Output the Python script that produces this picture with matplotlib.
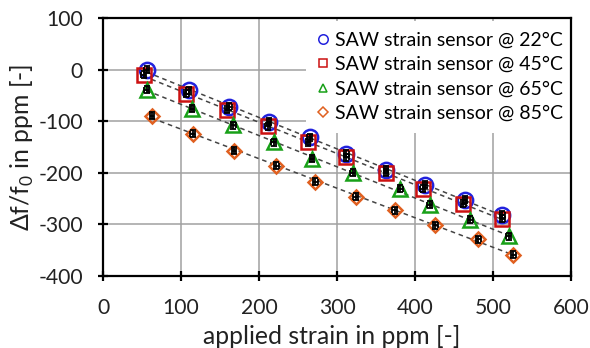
import numpy as np
import matplotlib
matplotlib.use("Agg")
import matplotlib.pyplot as plt

plt.rcParams['font.family'] = ['Lato', 'DejaVu Sans']
plt.rcParams['axes.unicode_minus'] = False

labels = ["SAW strain sensor @ 22°C", "SAW strain sensor @ 45°C",
          "SAW strain sensor @ 65°C", "SAW strain sensor @ 85°C"]

x22 = [56, 110, 162, 213, 265, 312, 363, 413, 464, 512]
y22 = [0, -40, -72, -101, -131, -163, -194, -223, -252, -281]
x45 = [52, 107, 159, 211, 263, 312, 363, 410, 462, 512]
y45 = [-10, -47, -78, -110, -141, -170, -200, -231, -260, -289]
x65 = [56, 114, 167, 219, 268, 320, 381, 419, 471, 520]
y65 = [-39, -76, -108, -141, -173, -200, -231, -262, -291, -323]
x85 = [63, 115, 168, 222, 272, 324, 374, 426, 481, 526]
y85 = [-89, -124, -157, -186, -217, -246, -273, -302, -329, -359]
yerr = [7, 7, 7, 7]
xerr = [3, 3, 3, 3]

series = [(x22, y22), (x45, y45), (x65, y65), (x85, y85)]
markers = ['o', 's', '^', 'D']
colors = ['#2222dd', '#cc1111', '#18a018', '#e06020']
msizes = [11, 9.5, 10, 7.5]

W, H = 590, 348
fig = plt.figure(figsize=(W / 100, H / 100), dpi=100)
ax = fig.add_axes([103 / W, 1 - 276 / H, 468 / W, 258 / H])

for i, (xs, ys) in enumerate(series):
    xs = np.array(xs); ys = np.array(ys)
    p = np.polyfit(xs, ys, 1)
    xl = np.array([xs.min(), xs.max()])
    ax.plot(xl, np.polyval(p, xl), ls=(0, (3, 2.5)), color='#444444', lw=1.1, zorder=2)
    ax.plot(xs, ys, ls='none', marker=markers[i], ms=msizes[i], mfc='none',
            mec=colors[i], mew=1.8, zorder=3)
    ax.errorbar(xs, ys, yerr=yerr[i], xerr=xerr[i], fmt='none', ecolor='black',
                elinewidth=1.3, capsize=2.2, capthick=1.3, zorder=4)

ax.set_xlim(0, 600)
ax.set_ylim(-400, 100)
ax.set_xticks(range(0, 601, 100))
ax.set_yticks(range(-400, 101, 100))
ax.grid(True, color='#a0a0a0', lw=1.1)
ax.set_axisbelow(True)
for s in ax.spines.values():
    s.set_linewidth(1.6)
    s.set_color('black')
ax.tick_params(direction='inout', length=7, width=1.6, labelsize=14,
               colors='black', labelcolor='#222222')
ax.tick_params(axis='y', pad=11)
ax.tick_params(axis='x', pad=12)

ax.set_xlabel("applied strain in ppm [-]", fontsize=15, color='#222222')
ax.set_ylabel(r"Δf/f$_\mathregular{0}$ in ppm [-]", fontsize=15, color='#222222')
ax.xaxis.label.set_va('center')
ax.yaxis.label.set_va('center')
ax.xaxis.set_label_coords(0.5 - 0.012, (276 - 336) / 258)
ax.yaxis.set_label_coords((22 - 103) / 468, 0.5)

# legend proxies
handles = []
for i in range(4):
    h, = ax.plot([], [], ls='none', marker=markers[i], ms=msizes[i] * 0.62, mfc='none',
                 mec=colors[i], mew=1.1)
    handles.append(h)

def make_legend(fs, ls, anchor):
    leg = ax.legend(handles, labels, loc='upper left', frameon=True, fontsize=fs,
                    handlelength=0.6, handletextpad=0.35, labelspacing=ls,
                    borderaxespad=0, borderpad=0.55, bbox_to_anchor=anchor,
                    bbox_transform=fig.transFigure, fancybox=False)
    leg.get_frame().set_facecolor('white')
    leg.get_frame().set_edgecolor('none')
    leg.get_frame().set_alpha(1)
    leg.set_zorder(2.4)
    return leg

fig.canvas.draw()
r = fig.canvas.get_renderer()
def fit(t, target, dim='w'):
    bb = t.get_window_extent(r)
    cur = bb.width if dim == 'w' else bb.height
    t.set_fontsize(t.get_fontsize() * target / cur)

fit(ax.xaxis.label, 257)
fit(ax.yaxis.label, 168, 'h')
tl = ax.get_yticklabels()[-1]
bb = tl.get_window_extent(r)
tfs = 14 * 37 / bb.width
ax.tick_params(labelsize=tfs)

fs, lsp = 13, 0.4
leg = make_legend(fs, lsp, (0.5, 0.9))
fig.canvas.draw()
texts = leg.get_texts()
fs = fs * 228 / texts[0].get_window_extent(r).width
leg = make_legend(fs, lsp, (0.5, 0.9))
fig.canvas.draw()
texts = leg.get_texts()
c0 = texts[0].get_window_extent(r)
c1 = texts[3].get_window_extent(r)
spacing = (c0.y0 + c0.y1) / 2 - (c1.y0 + c1.y1) / 2
lsp = lsp + (3 * 24.5 - spacing) / 3 / (fs * 100 / 72)
leg = make_legend(fs, lsp, (0.5, 0.9))
fig.canvas.draw()
texts = leg.get_texts()
c0 = texts[0].get_window_extent(r)
lb = leg.get_window_extent(r)
dx = 563 - c0.x1
dy = (H - 40) - (c0.y0 + c0.y1) / 2
leg = make_legend(fs, lsp, ((lb.x0 + dx) / W, (lb.y1 + dy) / H))

fig.savefig("out.png", dpi=100)
